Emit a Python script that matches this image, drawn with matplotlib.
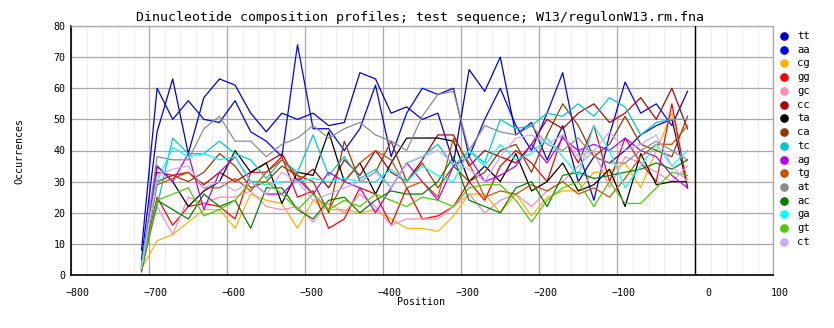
import matplotlib
matplotlib.use("Agg")
import matplotlib.pyplot as plt
from matplotlib.lines import Line2D
from matplotlib.ticker import MultipleLocator
import matplotlib.transforms as mtransforms

positions = list(range(-710, 0, 20))

names = ["tt", "aa", "cg", "gg", "gc", "cc", "ta", "ca", "tc", "ag", "tg", "at", "ac", "ga", "gt", "ct"]
colors = ["#0000c8", "#0000ff", "#ffb400", "#ff0000", "#ff8cb4", "#b40000", "#000000", "#8c3c00",
          "#00c8c8", "#b400ff", "#c85000", "#8c8c8c", "#008000", "#00ffff", "#50c800", "#c8aaff"]

tt = [5, 46, 63, 39, 57, 63, 61, 52, 46, 52, 50, 52, 48, 49, 65, 63, 52, 54, 50, 52, 36, 66, 59, 70, 45, 49, 37, 48, 30, 38, 36, 40, 45, 48, 50, 28]
aa = [8, 60, 50, 56, 50, 49, 56, 46, 43, 38, 74, 47, 47, 40, 47, 61, 38, 52, 60, 58, 60, 38, 50, 60, 48, 40, 52, 65, 40, 24, 45, 62, 52, 55, 48, 59]
cg = [2, 11, 13, 17, 21, 21, 15, 26, 24, 23, 15, 24, 21, 21, 20, 21, 18, 15, 15, 14, 19, 26, 26, 20, 26, 19, 25, 27, 27, 33, 33, 36, 28, 40, 52, 30]
gg = [3, 25, 16, 22, 23, 22, 18, 33, 33, 38, 25, 27, 15, 18, 28, 26, 16, 28, 18, 19, 22, 30, 24, 35, 40, 36, 30, 45, 36, 48, 30, 44, 36, 30, 55, 28]
gc = [2, 22, 13, 25, 23, 25, 25, 27, 22, 21, 22, 17, 23, 20, 26, 22, 16, 18, 18, 18, 22, 26, 20, 24, 26, 22, 27, 30, 35, 40, 28, 38, 36, 33, 30, 35]
cc = [2, 33, 32, 33, 29, 33, 30, 33, 36, 39, 30, 34, 28, 37, 32, 40, 33, 30, 37, 45, 45, 35, 40, 38, 36, 42, 50, 47, 52, 55, 49, 52, 57, 50, 60, 47]
ta = [3, 35, 30, 22, 27, 30, 40, 33, 36, 23, 33, 32, 46, 30, 36, 26, 36, 44, 44, 44, 43, 30, 35, 30, 39, 27, 30, 36, 27, 29, 34, 22, 39, 29, 30, 30]
ca = [2, 30, 32, 30, 33, 39, 35, 28, 30, 35, 32, 30, 20, 43, 30, 33, 43, 30, 36, 28, 35, 30, 33, 40, 42, 33, 45, 55, 48, 38, 42, 51, 42, 40, 38, 51]
tc = [4, 22, 44, 39, 39, 43, 39, 37, 31, 37, 33, 45, 32, 38, 31, 34, 28, 36, 38, 42, 35, 40, 36, 50, 47, 48, 52, 51, 55, 51, 57, 54, 45, 49, 50, 50]
ag = [2, 35, 30, 39, 21, 33, 38, 30, 26, 26, 31, 26, 33, 30, 28, 20, 28, 36, 30, 24, 35, 38, 30, 32, 35, 42, 36, 44, 40, 42, 40, 44, 40, 38, 32, 28]
tg = [2, 29, 31, 33, 28, 28, 31, 27, 33, 37, 32, 26, 21, 30, 36, 40, 37, 28, 30, 25, 44, 36, 25, 27, 26, 29, 27, 30, 26, 28, 25, 31, 38, 42, 42, 48]
at = [3, 38, 37, 37, 47, 51, 43, 43, 38, 42, 44, 48, 44, 47, 49, 45, 43, 40, 51, 58, 59, 40, 48, 46, 45, 48, 42, 40, 44, 38, 36, 36, 40, 43, 40, 37]
ac = [1, 24, 21, 18, 26, 22, 24, 15, 28, 28, 21, 18, 24, 25, 20, 24, 27, 26, 26, 30, 38, 24, 22, 20, 28, 30, 22, 32, 33, 31, 32, 33, 34, 36, 34, 37]
ga = [3, 30, 41, 38, 39, 37, 38, 30, 29, 30, 30, 31, 30, 31, 30, 30, 34, 30, 35, 32, 30, 40, 35, 42, 37, 39, 44, 38, 32, 48, 40, 28, 35, 42, 35, 40]
gt = [2, 24, 26, 28, 19, 21, 24, 30, 30, 26, 21, 26, 21, 24, 22, 26, 24, 22, 25, 24, 22, 28, 29, 29, 24, 17, 24, 28, 30, 22, 30, 23, 23, 28, 33, 32]
ct = [2, 32, 34, 35, 28, 30, 27, 30, 26, 33, 30, 24, 26, 28, 30, 33, 28, 36, 38, 40, 36, 34, 30, 38, 44, 45, 42, 45, 38, 40, 46, 40, 42, 45, 35, 30]

series = [tt, aa, cg, gg, gc, cc, ta, ca, tc, ag, tg, at, ac, ga, gt, ct]

x_ticks = [-800, -700, -600, -500, -400, -300, -200, -100, 0, 100]
y_ticks = [0, 10, 20, 30, 40, 50, 60, 70, 80]

FONT = "DejaVu Sans Mono"

W, H = 834, 328
fig = plt.figure(figsize=(W / 100, H / 100), dpi=100)
ax = fig.add_axes([71.3 / W, 1 - 275 / H, (773.3 - 71.3) / W, (275 - 26) / H])

ax.set_xlim(-800, 100)
ax.set_ylim(0, 80)
ax.xaxis.set_minor_locator(MultipleLocator(20))
ax.set_xticks(x_ticks)
ax.set_yticks(y_ticks)
ax.grid(which="minor", axis="x", color="#eeeeee", lw=0.8, zorder=0)
ax.grid(which="major", color="#a8a8a8", lw=0.9, zorder=0.5)
ax.set_axisbelow(True)
for s in ["top", "right"]:
    ax.spines[s].set_color("#a8a8a8")
    ax.spines[s].set_linewidth(0.9)
for s in ["left", "bottom"]:
    ax.spines[s].set_color("black")
    ax.spines[s].set_linewidth(1.2)
ax.axvline(0, color="black", lw=1.0, zorder=3)

ax.tick_params(which="both", length=0, labelsize=7.2, pad=4)
ax.tick_params(axis="x", pad=9)
for lab in ax.get_xticklabels() + ax.get_yticklabels():
    lab.set_fontfamily(FONT)
off = mtransforms.ScaledTranslation(6 / 100, 0, fig.dpi_scale_trans)
for lab, t in zip(ax.get_xticklabels(), x_ticks):
    extra = 13 if t == 0 else 6
    lab.set_transform(lab.get_transform() + mtransforms.ScaledTranslation(extra / 100, 0, fig.dpi_scale_trans))

for name, col, vals in zip(names, colors, series):
    ax.plot(positions, vals, color=col, lw=0.9, zorder=2)

fig.text(420 / W, 1 - 18 / H, "Dinucleotide composition profiles; test sequence; W13/regulonW13.rm.fna",
         ha="center", va="center", fontsize=9.5, family=FONT)
fig.text(421 / W, 1 - 302 / H, "Position", ha="center", va="center", fontsize=7.2, family=FONT)
fig.text(19 / W, 1 - 151 / H, "Occurrences", ha="center", va="center", rotation=90, fontsize=7.2, family=FONT)

for i, (name, col) in enumerate(zip(names, colors)):
    y = 1 - (36 + i * 13.73) / H
    fig.add_artist(Line2D([784 / W], [y], marker="o", markersize=5.2, color=col, linestyle="none"))
    fig.text(797 / W, y, name, ha="left", va="center", fontsize=7.6, family=FONT)

fig.savefig("out.png", dpi=100)
